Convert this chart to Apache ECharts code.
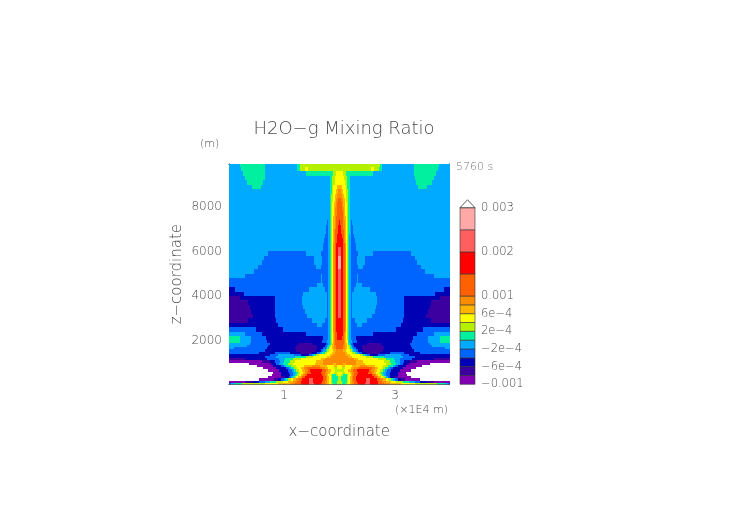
<!DOCTYPE html>
<html><head><meta charset="utf-8">
<style>html,body{margin:0;padding:0;background:#fff}#c{width:752px;height:532px}</style>
<script src="https://cdn.jsdelivr.net/npm/echarts@6/dist/echarts.min.js"></script>
</head><body><div id="c"></div>
<script>
// contour levels of the colour bar (lower edge of each band, then the top)
const bandLevels = [-0.001,-0.0008,-0.0006,-0.0004,-0.0002,0,0.0002,0.0004,0.0006,0.0008,0.001,0.0015,0.002,0.0025,0.003];
const bandCodes  = ['p','i','n','b','s','t','l','y','o','a','r','R','k','K'];
const bandColors = ['#8200b4','#3c00a0','#0000b4','#0064ff','#00aaff','#00f0a0','#b4f000','#ffff00','#ffb400','#ff8c00','#ff6000','#ff0000','#ff5f5f','#ffa8a8'];
const colorbarTicks = [-0.001,-0.0006,-0.0002,0.0002,0.0006,0.001,0.002,0.003];
const colorbarLabels = ['\u22120.001','\u22126e\u22124','\u22122e\u22124','2e\u22124','6e\u22124','0.001','0.002','0.003'];
const xMajor = [10000,20000,30000];
const xMinor = [2000,4000,6000,8000,12000,14000,16000,18000,22000,24000,26000,28000,32000,34000,36000,38000];
const zMajor = [2000,4000,6000,8000];
const zMinor = [500,1000,1500,2500,3000,3500,4500,5000,5500,6500,7000,7500,8500,9000,9500];
// left half of the (symmetric) field: [z of row bottom, "band xEnd(km) band xEnd(km) ..."]
const rowRuns = [
[9800,"s 2.1 t 6.6 s 12.3 t 12.8 l 20"],
[9600,"s 2.3 t 6.6 s 12.4 t 12.9 l 13.8 y 14.3 l 20"],
[9400,"s 2.6 t 6.6 s 14 t 18.8 l 19.35 y 20"],
[9200,"s 3 t 6.5 s 18.2 t 18.7 l 19.25 y 20"],
[9000,"s 3.4 t 6.2 s 18.2 t 18.65 l 19.1 y 20"],
[8800,"s 4.2 t 5.8 s 18.2 t 18.6 l 18.9 y 19.5 o 20"],
[8600,"s 18.2 t 18.55 l 18.8 y 19.3 o 19.75 a 20"],
[8400,"s 18.2 t 18.5 l 18.75 y 19.2 o 19.6 a 20"],
[8200,"s 18.2 t 18.5 l 18.75 y 19.1 o 19.4 a 19.8 r 20"],
[8000,"s 18.2 t 18.45 l 18.7 y 19.05 o 19.3 a 19.6 r 20"],
[7800,"s 18.2 t 18.45 l 18.65 y 19 o 19.25 a 19.5 r 20"],
[7600,"s 18.2 t 18.45 l 18.65 y 18.95 o 19.2 a 19.45 r 20"],
[7400,"s 18.2 t 18.45 l 18.65 y 18.9 o 19.15 a 19.4 r 20"],
[7200,"s 17.7 b 17.9 s 18.2 t 18.45 l 18.6 y 18.9 o 19.1 a 19.35 r 19.9 R 20"],
[7000,"s 17.6 b 18 s 18.2 t 18.45 l 18.6 y 18.85 o 19.1 a 19.3 r 19.8 R 20"],
[6800,"s 17.5 b 18 s 18.2 t 18.4 l 18.6 y 18.85 o 19.05 a 19.25 r 19.65 R 20"],
[6600,"s 17.4 b 18 s 18.3 t 18.45 l 18.6 y 18.8 o 19 a 19.2 r 19.5 R 20"],
[6400,"s 17.25 b 18 s 18.3 t 18.45 l 18.6 y 18.8 o 18.95 a 19.15 r 19.45 R 20"],
[6200,"s 17.1 b 18 s 18.3 t 18.45 l 18.6 y 18.75 o 18.9 a 19.1 r 19.4 R 20"],
[6000,"s 17 b 18 s 18.3 t 18.45 l 18.6 y 18.75 o 18.9 a 19.1 r 19.37 R 19.75 k 20"],
[5800,"s 7.1 b 14 s 16.6 b 18 s 18.3 t 18.45 l 18.6 y 18.75 o 18.9 a 19.1 r 19.37 R 19.73 k 20"],
[5600,"s 6.4 b 15.4 s 16.9 b 18 s 18.3 t 18.45 l 18.6 y 18.75 o 18.9 a 19.1 r 19.37 R 19.65 K 20"],
[5400,"s 6 b 15.4 s 16.9 b 18 s 18.3 t 18.45 l 18.6 y 18.75 o 18.9 a 19.1 r 19.37 R 19.65 K 20"],
[5200,"s 5.3 b 15.8 s 16.6 b 18 s 18.3 t 18.45 l 18.6 y 18.75 o 18.9 a 19.1 r 19.37 R 19.7 K 20"],
[5000,"s 4.6 b 18 s 18.3 t 18.45 l 18.6 y 18.75 o 18.9 a 19.1 r 19.37 R 19.73 k 20"],
[4800,"s 3 b 16.6 s 16.8 b 18 s 18.3 t 18.45 l 18.6 y 18.75 o 18.9 a 19.1 r 19.37 R 19.73 k 20"],
[4600,"b 16.6 s 16.9 b 18 s 18.3 t 18.45 l 18.6 y 18.75 o 18.9 a 19.1 r 19.37 R 19.73 k 20"],
[4400,"b 15.9 s 17 b 18 s 18.3 t 18.45 l 18.6 y 18.75 o 18.9 a 19.1 r 19.37 R 19.73 k 20"],
[4200,"n 1.2 b 14.5 s 17.4 b 18 s 18.3 t 18.45 l 18.6 y 18.75 o 18.9 a 19.1 r 19.37 R 19.73 k 20"],
[4000,"n 2.8 b 13.4 s 17.8 b 18 s 18.3 t 18.45 l 18.6 y 18.75 o 18.9 a 19.1 r 19.37 R 19.73 k 20"],
[3800,"i 2 n 8.4 b 13.3 s 17.8 b 18 s 18.3 t 18.45 l 18.6 y 18.75 o 18.9 a 19.1 r 19.37 R 19.73 k 20"],
[3600,"i 3.5 n 8.4 b 13.3 s 17.8 b 18 s 18.3 t 18.45 l 18.6 y 18.75 o 18.9 a 19.1 r 19.37 R 19.73 k 20"],
[3400,"i 3.8 n 8.4 b 13.4 s 17.8 b 18 s 18.3 t 18.45 l 18.6 y 18.75 o 18.9 a 19.1 r 19.37 R 19.73 k 20"],
[3200,"i 4 n 8.4 b 13.7 s 17.8 b 18 s 18.3 t 18.45 l 18.6 y 18.75 o 18.9 a 19.1 r 19.37 R 19.73 k 20"],
[3000,"i 4.4 n 8.4 b 14.2 s 17.7 b 18 s 18.3 t 18.45 l 18.6 y 18.75 o 18.9 a 19.1 r 19.37 R 19.75 k 20"],
[2800,"i 3.5 n 8.6 b 15 s 17.3 b 18 s 18.3 t 18.45 l 18.6 y 18.75 o 18.9 a 19.1 r 19.4 R 20"],
[2600,"n 8.9 b 16 s 16.9 b 18 s 18.3 t 18.45 l 18.6 y 18.75 o 18.9 a 19.1 r 19.4 R 20"],
[2400,"b 5 n 9.8 b 18 s 18.3 t 18.45 l 18.6 y 18.75 o 18.9 a 19.1 r 19.4 R 20"],
[2200,"s 3 b 6 n 14 b 18 s 18.3 t 18.45 l 18.6 y 18.75 o 18.95 a 19.15 r 19.45 R 20"],
[2000,"t 2 s 4 b 6.8 n 17 b 18 s 18.3 t 18.4 l 18.6 y 18.8 o 19 a 19.2 r 19.55 R 20"],
[1900,"t 2 s 4.1 b 7 n 16.9 b 17.7 s 18.25 t 18.4 l 18.55 y 18.75 o 18.95 a 19.2 r 20"],
[1800,"s 3.8 b 7.4 n 12.5 i 15 n 17.6 b 17.9 s 18.2 t 18.4 l 18.55 y 18.7 o 18.95 a 19.2 r 20"],
[1700,"s 3.4 b 7.1 n 12.2 i 16 n 17.4 b 17.7 s 18 t 18.2 l 18.4 y 18.7 o 19 a 19.3 r 20"],
[1600,"s 1 b 7 n 12 i 16 n 17 b 17.5 s 17.8 t 18.1 l 18.3 y 18.7 o 19 a 19.4 r 20"],
[1500,"b 6.6 n 12.2 i 15.8 n 16.6 b 17.1 s 17.5 t 17.8 l 18.1 y 18.9 o 19.3 a 20"],
[1400,"b 5.5 n 8.4 b 11 n 12.8 i 15 n 16 b 16.5 s 16.9 t 17.3 l 17.7 y 18.6 o 19.1 a 20"],
[1300,"n 7.5 b 9 s 11.8 b 13 n 14.5 b 15 s 15.4 t 15.8 l 16.3 y 18.2 o 18.9 a 20"],
[1200,"n 6.5 b 8.6 s 12 t 14 l 15.2 y 17.8 o 18.5 a 20"],
[1100,"i 3 n 7 b 9.1 s 10.2 t 11.6 l 13 y 16.6 o 17.4 a 20"],
[1000,"p 6 i 7.4 n 8.4 b 9.2 s 10 t 11 l 12 y 15.8 o 17 a 20"],
[900,"W 3.7 p 7.4 i 7.9 n 8.6 b 9.1 s 9.9 t 10.7 l 11.7 y 15.5 o 17 a 18.8 o 19.4 a 20"],
[800,"W 5.2 p 8 n 9.5 b 10 s 10.4 t 11.3 l 12.2 y 13.6 o 15 a 16.4 o 17.8 y 19 o 19.6 y 20"],
[700,"W 6.2 p 8.6 n 10.4 b 10.9 s 11.3 t 11.8 l 12.4 y 13.1 o 13.6 a 14.2 r 16.5 a 17.4 o 18 y 19 l 19.6 y 20"],
[600,"W 7.1 p 9.1 n 10.7 b 11.4 s 11.8 t 12.2 l 12.7 y 13.2 o 13.8 a 14.3 r 14.7 R 16.8 r 17.6 a 18 o 18.4 y 19.2 l 20"],
[500,"W 8 p 9.5 n 10.9 b 11.6 s 12.2 t 12.5 l 12.9 y 13.4 o 13.8 a 14.2 r 14.8 R 16.6 r 17.4 a 17.8 o 18.2 y 19 l 19.5 y 20"],
[400,"W 7.8 p 9.4 n 11 b 11.6 s 12 t 12.3 l 12.7 y 13.1 o 13.4 a 13.7 r 14.2 R 16.9 r 17.4 a 17.7 o 18 y 18.4 l 18.7 t 19.3 l 19.7 y 20"],
[300,"W 7.2 p 9.4 i 10.2 n 10.9 b 11.3 s 11.6 t 11.9 l 12.2 y 12.6 o 13 a 13.3 r 13.8 R 17 r 17.5 a 17.8 o 18.1 y 18.4 l 18.7 t 19.7 l 20"],
[200,"W 5.5 p 8.2 i 9 n 9.5 b 10 s 10.4 t 10.8 l 11.2 y 11.7 o 12.2 a 12.7 r 13.3 R 14.5 k 15.2 R 17 r 17.5 a 17.8 o 18.1 y 18.4 l 18.7 t 19.7 l 20"],
[100,"p 3 i 4.5 n 5.5 b 6.5 s 7.5 t 8.5 l 9.8 y 10.8 o 11.6 a 12.3 r 13 R 14.5 k 15.3 R 16.8 r 17.4 a 17.8 o 18.1 y 18.4 l 18.7 t 19.6 l 20"],
[0,"b 0.5 s 1 t 2.5 l 6.5 y 9 o 11 a 12 r 13 R 14.5 k 15.4 R 16.6 r 17.4 a 17.8 o 18.1 y 18.4 l 18.8 t 19.5 l 20"]
];

const cells = [];
let zTop = 10000;
rowRuns.forEach(function (row) {
  const parts = row[1].split(' ');
  let xStart = 0;
  for (let i = 0; i < parts.length; i += 2) {
    const xEnd = parseFloat(parts[i + 1]);
    const band = bandCodes.indexOf(parts[i]);
    cells.push([xStart * 1000, xEnd * 1000, row[0], zTop, band]);
    cells.push([(40 - xEnd) * 1000, (40 - xStart) * 1000, row[0], zTop, band]);
    xStart = xEnd;
  }
  zTop = row[0];
});
const barCells = bandCodes.map(function (c, i) { return [bandLevels[i], bandLevels[i + 1], i]; });

const font = '"DejaVu Sans"';
const ink = '#4a4a4a';
const lineStyle = { color: '#222', width: 0.8 };
function xAx(pos, vals, len, withLabel) {
  return { type: 'value', gridIndex: 0, position: pos, min: 90, max: 39800,
    splitLine: { show: false }, axisLine: { show: true, onZero: false, lineStyle: { color: '#555', width: 0.8 } },
    axisTick: { show: true, inside: true, length: len, customValues: vals, lineStyle: lineStyle },
    axisLabel: withLabel ? { show: true, customValues: vals, margin: 6, color: ink, fontFamily: font, fontWeight: 200, fontSize: 12,
      formatter: function (v) { return String(v / 10000); } } : { show: false },
    name: withLabel ? 'x\u2212coordinate' : '', nameLocation: 'middle', nameGap: 40,
    nameTextStyle: { color: ink, fontFamily: font, fontWeight: 200, fontSize: 15 } };
}
function zAx(pos, vals, len, withLabel) {
  return { type: 'value', gridIndex: 0, position: pos, min: 30, max: 9930,
    splitLine: { show: false }, axisLine: { show: true, onZero: false, lineStyle: { color: '#555', width: 0.8 } },
    axisTick: { show: true, inside: true, length: len, customValues: vals, lineStyle: lineStyle },
    axisLabel: withLabel ? { show: true, customValues: vals, margin: 7, color: ink, fontFamily: font, fontWeight: 200, fontSize: 12,
      formatter: function (v) { return String(v); } } : { show: false },
    name: withLabel ? 'z\u2212coordinate' : '', nameLocation: 'middle', nameGap: 44,
    nameTextStyle: { color: ink, fontFamily: font, fontWeight: 200, fontSize: 15 } };
}
const chart = echarts.init(document.getElementById('c'), null, { renderer: 'canvas' });
chart.setOption({
  animation: false,
  backgroundColor: '#fff',
  title: { text: 'H2O\u2212g Mixing Ratio', left: 339, top: 115, textAlign: 'center',
    textStyle: { color: ink, fontFamily: font, fontWeight: 200, fontSize: 18 } },
  grid: [
    { left: 229, top: 164, width: 220.5, height: 220.3 },
    { left: 460, top: 207.7, width: 15, height: 176.6 }
  ],
  xAxis: [
    xAx('bottom', xMajor, 6, true), xAx('bottom', xMinor, 3, false),
    xAx('top', xMajor, 6, false), xAx('top', xMinor, 3, false),
    { type: 'value', gridIndex: 1, min: 0, max: 1, show: false }
  ],
  yAxis: [
    zAx('left', zMajor, 6, true), zAx('left', zMinor, 3, false),
    zAx('right', zMajor, 6, false), zAx('right', zMinor, 3, false),
    { type: 'value', gridIndex: 1, position: 'right', min: -0.001, max: 0.003, splitLine: { show: false },
      axisLine: { show: false }, axisTick: { show: false },
      axisLabel: { customValues: colorbarTicks, margin: 6, color: ink, fontFamily: font, fontWeight: 200, fontSize: 11.5,
        formatter: function (v) { return colorbarLabels[colorbarTicks.findIndex(function (t) { return Math.abs(t - v) < 1e-6; })]; } } }
  ],
  series: [
    { type: 'custom', xAxisIndex: 0, yAxisIndex: 0, clip: true, silent: true, data: cells,
      renderItem: function (p, api) {
        const a = api.coord([api.value(0), api.value(2)]);
        const b = api.coord([api.value(1), api.value(3)]);
        const x0 = Math.round(a[0]), x1 = Math.round(b[0]), y0 = Math.round(b[1]), y1 = Math.round(a[1]);
        return { type: 'rect', shape: { x: x0, y: y0, width: x1 - x0, height: y1 - y0 },
          style: { fill: api.value(4) < 0 ? '#fff' : bandColors[api.value(4)] } };
      } },
    { type: 'custom', xAxisIndex: 4, yAxisIndex: 4, silent: true, data: barCells,
      renderItem: function (p, api) {
        const a = api.coord([0, api.value(1)]);
        const b = api.coord([1, api.value(0)]);
        return { type: 'rect', shape: { x: a[0], y: a[1], width: b[0] - a[0], height: b[1] - a[1] },
          style: { fill: bandColors[api.value(2)], stroke: '#333', lineWidth: 0.6 } };
      } },
    { type: 'custom', xAxisIndex: 4, yAxisIndex: 4, silent: true, data: [[0.003, 0.00318]],
      renderItem: function (p, api) {
        const l = api.coord([0, api.value(0)]), r = api.coord([1, api.value(0)]), t = api.coord([0.5, api.value(1)]);
        return { type: 'polygon', shape: { points: [l, t, r] }, style: { fill: '#fff', stroke: '#333', lineWidth: 0.8 } };
      } }
  ],
  graphic: [
    { type: 'text', left: 200, top: 139, style: { text: '(m)', fill: ink, font: '200 11px ' + font } },
    { type: 'text', left: 456, top: 162, style: { text: '5760 s', fill: '#777', font: '200 11px ' + font } },
    { type: 'text', left: 395, top: 405, style: { text: '(\u00d71E4 m)', fill: ink, font: '200 11px ' + font } }
  ]
});
</script></body></html>
